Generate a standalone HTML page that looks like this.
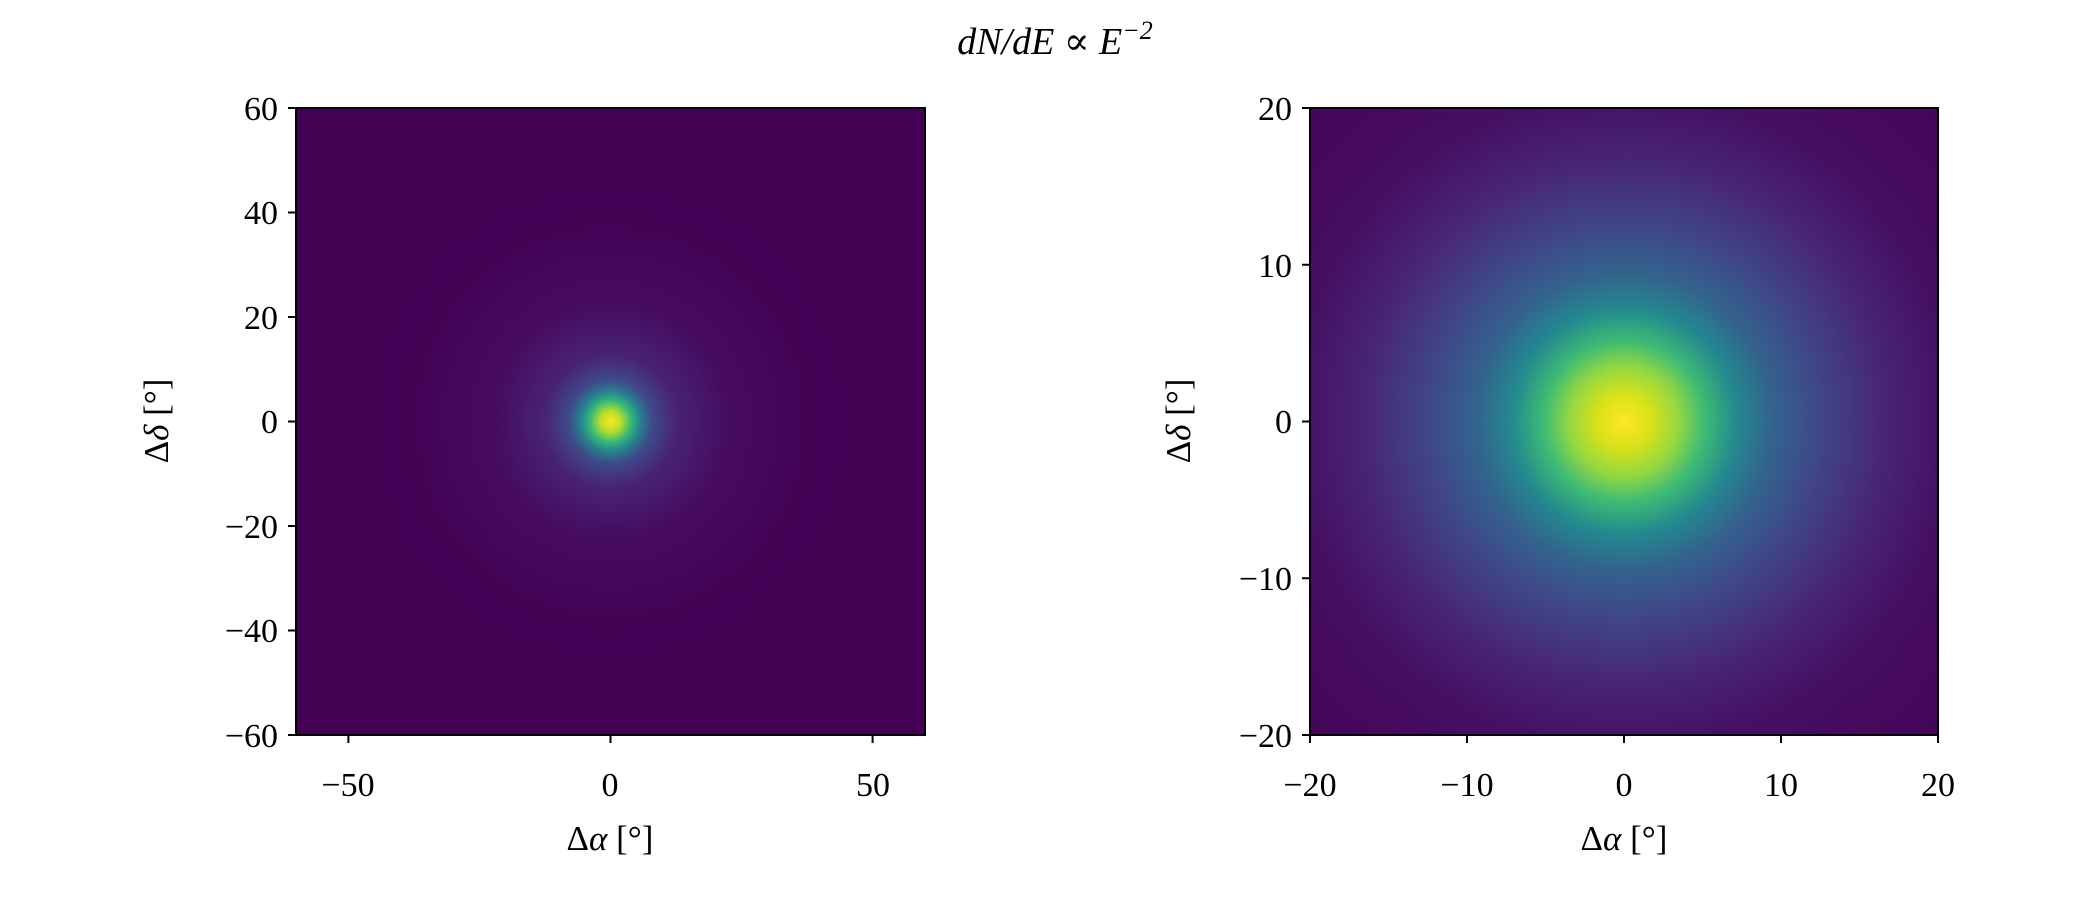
<!DOCTYPE html>
<html><head><meta charset="utf-8"><style>
html,body{margin:0;padding:0;background:#fff;}
svg{display:block;font-family:"Liberation Serif","DejaVu Serif",serif;}
</style></head><body>
<svg width="2100" height="900" viewBox="0 0 2100 900" xmlns="http://www.w3.org/2000/svg">
<defs>
<radialGradient id="gl" cx="610.5" cy="421.5" r="300" gradientUnits="userSpaceOnUse">
<stop offset="0" stop-color="#fde725"/>
<stop offset="0.035" stop-color="#b5de2b"/>
<stop offset="0.07" stop-color="#35b779"/>
<stop offset="0.1" stop-color="#26828e"/>
<stop offset="0.14" stop-color="#3e4a89"/>
<stop offset="0.22" stop-color="#482374"/>
<stop offset="0.4" stop-color="#460b5f"/>
<stop offset="0.65" stop-color="#440456"/>
<stop offset="1" stop-color="#440154"/>
</radialGradient>
<radialGradient id="gr" cx="1624" cy="421.5" r="450" gradientUnits="userSpaceOnUse">
<stop offset="0" stop-color="#fde725"/>
<stop offset="0.06" stop-color="#d8e219"/>
<stop offset="0.12" stop-color="#95d840"/>
<stop offset="0.18" stop-color="#3cbb75"/>
<stop offset="0.25" stop-color="#23898e"/>
<stop offset="0.33" stop-color="#33638d"/>
<stop offset="0.44" stop-color="#404588"/>
<stop offset="0.58" stop-color="#482576"/>
<stop offset="0.74" stop-color="#460e61"/>
<stop offset="1" stop-color="#450559"/>
</radialGradient>
</defs>
<text x="1055" y="54" font-size="38" font-style="italic" text-anchor="middle">dN/dE ∝ E<tspan font-size="26" dy="-15">−2</tspan></text>

<rect x="296" y="108" width="629" height="627" fill="url(#gl)"/>
<rect x="296" y="108" width="629" height="627" fill="none" stroke="#000" stroke-width="2"/>
<g stroke="#000" stroke-width="2">
<line x1="296" y1="108" x2="288" y2="108"/><line x1="296" y1="212.5" x2="288" y2="212.5"/><line x1="296" y1="317" x2="288" y2="317"/><line x1="296" y1="421.5" x2="288" y2="421.5"/><line x1="296" y1="526" x2="288" y2="526"/><line x1="296" y1="630.5" x2="288" y2="630.5"/><line x1="296" y1="735" x2="288" y2="735"/>
<line x1="348.4" y1="735" x2="348.4" y2="743"/><line x1="610.5" y1="735" x2="610.5" y2="743"/><line x1="872.6" y1="735" x2="872.6" y2="743"/>
</g>
<g font-size="34" text-anchor="end">
<text x="278" y="120">60</text><text x="278" y="224">40</text><text x="278" y="329">20</text><text x="278" y="433">0</text><text x="278" y="538">−20</text><text x="278" y="642">−40</text><text x="278" y="747">−60</text>
</g>
<g font-size="34" text-anchor="middle">
<text x="348" y="796">−50</text><text x="610" y="796">0</text><text x="873" y="796">50</text>
</g>
<text x="610" y="850" font-size="35" text-anchor="middle">Δ<tspan font-style="italic">α</tspan> [°]</text>
<text transform="translate(168,421) rotate(-90)" font-size="35" text-anchor="middle">Δ<tspan font-style="italic">δ</tspan> [°]</text>

<rect x="1310" y="108" width="628" height="627" fill="url(#gr)"/>
<rect x="1310" y="108" width="628" height="627" fill="none" stroke="#000" stroke-width="2"/>
<g stroke="#000" stroke-width="2">
<line x1="1310" y1="108" x2="1302" y2="108"/><line x1="1310" y1="264.75" x2="1302" y2="264.75"/><line x1="1310" y1="421.5" x2="1302" y2="421.5"/><line x1="1310" y1="578.25" x2="1302" y2="578.25"/><line x1="1310" y1="735" x2="1302" y2="735"/>
<line x1="1310" y1="735" x2="1310" y2="743"/><line x1="1467" y1="735" x2="1467" y2="743"/><line x1="1624" y1="735" x2="1624" y2="743"/><line x1="1781" y1="735" x2="1781" y2="743"/><line x1="1938" y1="735" x2="1938" y2="743"/>
</g>
<g font-size="34" text-anchor="end">
<text x="1292" y="120">20</text><text x="1292" y="277">10</text><text x="1292" y="433">0</text><text x="1292" y="590">−10</text><text x="1292" y="747">−20</text>
</g>
<g font-size="34" text-anchor="middle">
<text x="1310" y="796">−20</text><text x="1467" y="796">−10</text><text x="1624" y="796">0</text><text x="1781" y="796">10</text><text x="1938" y="796">20</text>
</g>
<text x="1624" y="850" font-size="35" text-anchor="middle">Δ<tspan font-style="italic">α</tspan> [°]</text>
<text transform="translate(1190,421) rotate(-90)" font-size="35" text-anchor="middle">Δ<tspan font-style="italic">δ</tspan> [°]</text>
</svg>
</body></html>
